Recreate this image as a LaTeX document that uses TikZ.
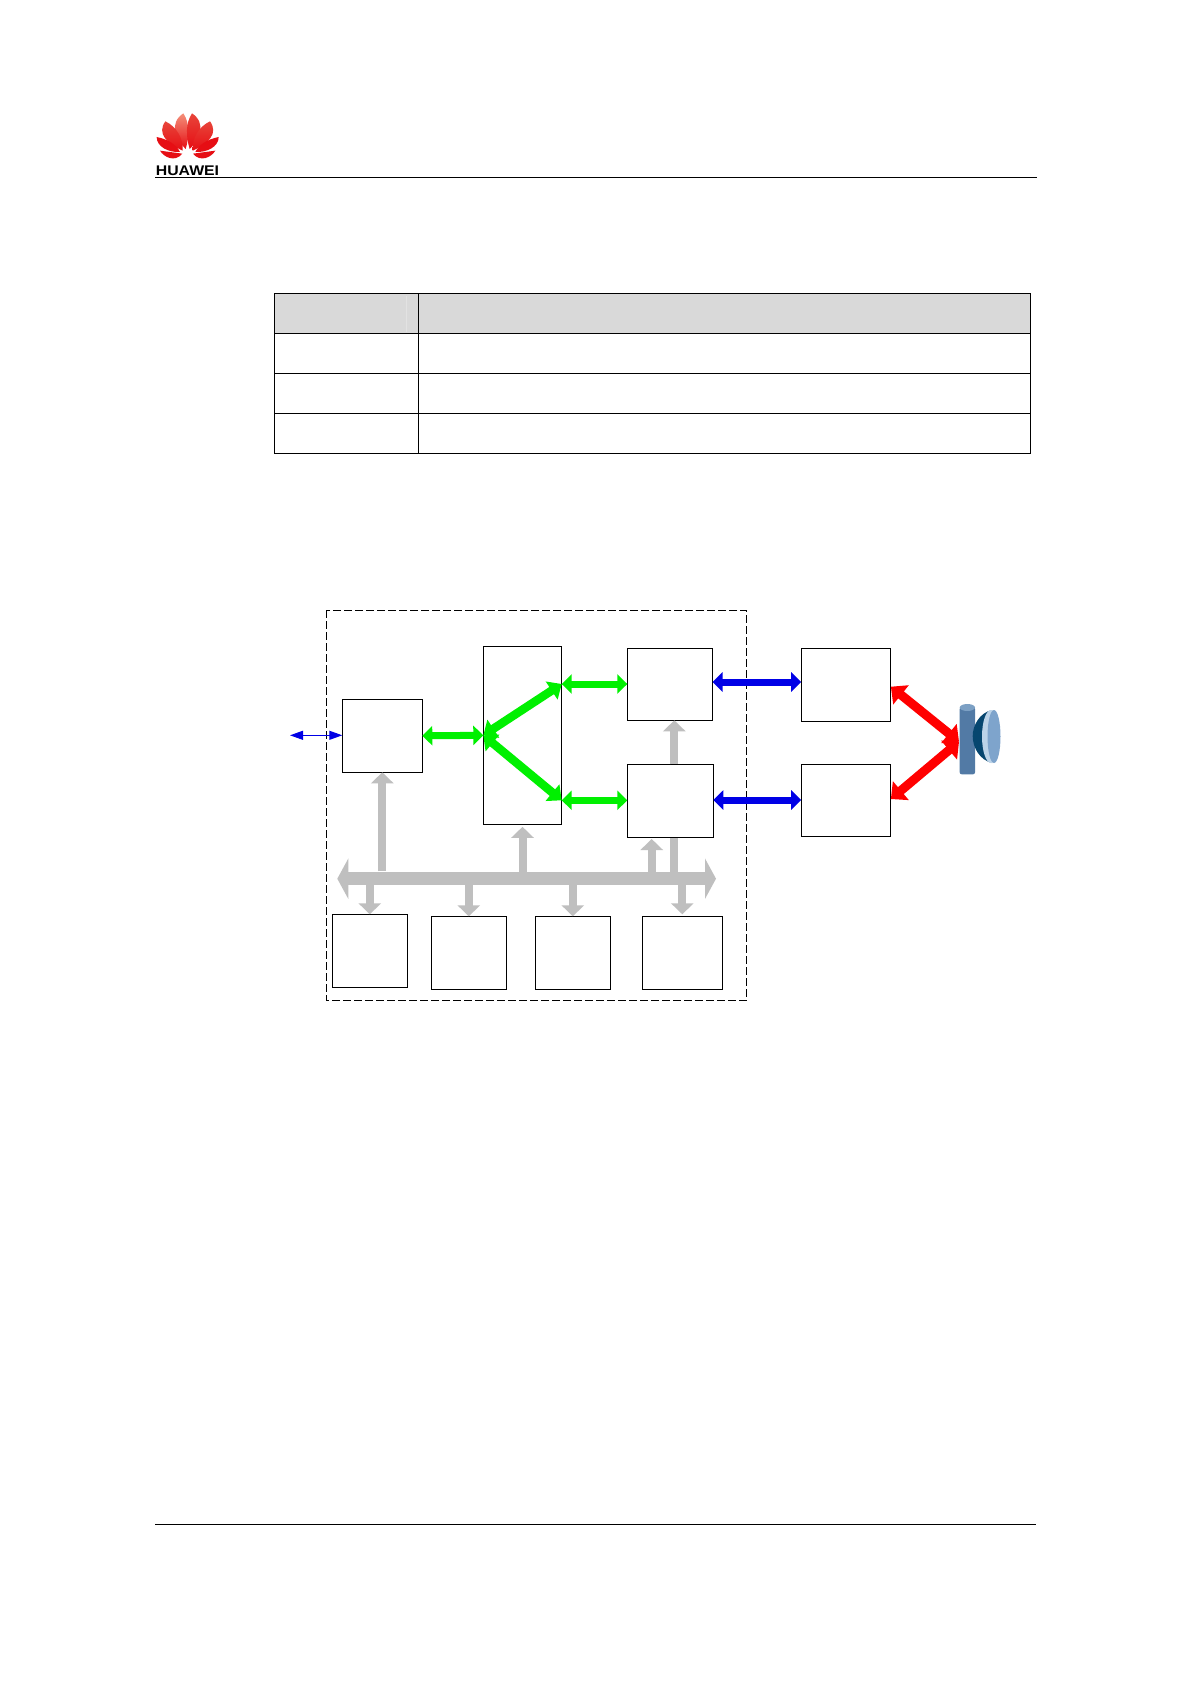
\documentclass[tikz,border=0pt]{standalone}
\usepackage{fontspec}
\setmainfont{Liberation Sans}
\usetikzlibrary{arrows.meta,calc}
\definecolor{busgray}{HTML}{BFBFBF}
\definecolor{hdrgray}{HTML}{D9D9D9}
\definecolor{grn}{HTML}{00F000}
\definecolor{blu}{HTML}{0000E6}
\definecolor{hwred}{HTML}{E60E14}
\definecolor{hwlight}{HTML}{F4907A}
\definecolor{hwmid}{HTML}{E8453A}
\tikzset{
  blockbox/.style={draw=black,line width=0.9pt,fill=white,inner sep=0pt,outer sep=0pt},
  rulebar/.style={draw=black,line width=0.9pt},
  busarrow/.style={draw=busgray,line width=8pt,-{Triangle[length=11pt,width=22pt]}},
  mainbus/.style={draw=busgray,line width=13pt,{Triangle[length=11pt,width=40pt]}-{Triangle[length=11pt,width=40pt]}},
  greenarrow/.style={draw=grn,line width=7pt,{Triangle[length=10pt,width=19pt]}-{Triangle[length=10pt,width=19pt]}},
  greendiag/.style={draw=grn,line width=8.5pt,{Triangle[length=12pt,width=21pt]}-{Triangle[length=12pt,width=21pt]}},
  bluearrow/.style={draw=blu,line width=7pt,{Triangle[length=10pt,width=19pt]}-{Triangle[length=10pt,width=19pt]}},
  redarrow/.style={draw=red,line width=9pt,{Triangle[length=13pt,width=24pt]}-{Triangle[length=13pt,width=24pt]}},
  thinblue/.style={draw=blu,line width=1pt,{Triangle[length=13pt,width=9pt]}-{Triangle[length=13pt,width=9pt]}},
  petal/.style={fill=hwred,draw=none},
  upperpetal/.style={top color=#1,bottom color=hwred,draw=none},
}
\begin{document}
\begin{tikzpicture}[x=1pt,y=-1pt]
\useasboundingbox (0,0) rectangle (1190,1684);
\fill[white] (0,0) rectangle (1190,1684);

% logo
\begin{scope}[x=0.3333pt,y=-0.3333pt,shift={(140pt,-100pt)}]
\foreach \s/\c in {1/hwlight,-1/hwmid}{
\begin{scope}[xshift=47.67pt,xscale=\s,xshift=-47.67pt]
  \path[upperpetal=\c] (137,147) .. controls (108,120) and (85,70) .. (130,40) .. controls (150,70) and (148,110) .. (137,147) -- cycle;
  \path[upperpetal=hwmid] (128,152) .. controls (80,130) and (50,100) .. (76,64) .. controls (110,80) and (130,115) .. (128,152) -- cycle;
  \path[petal] (120,156) .. controls (85,158) and (50,140) .. (50,111) .. controls (85,118) and (110,135) .. (120,156) -- cycle;
  \path[petal] (127,161) -- (60,152) .. controls (72,172) and (105,188) .. (127,161) -- cycle;
\end{scope}}
\end{scope}
\node[inner sep=0pt,anchor=base,font=\bfseries,text=black,xscale=1.13] (brand) at (187.5,175) {\fontsize{14}{14}\selectfont HUAWEI};
\draw[rulebar] (155,177.5) coordinate (ruleA) -- (1037,177.5) coordinate (ruleB);
\draw[rulebar] (155,1524) coordinate (ruleC) -- (1036,1524) coordinate (ruleD);

% table
\fill[hdrgray] (274.5,293.5) rectangle (1030,333.5);
\draw[color=white!25!hdrgray,line width=1pt] (406,296) -- (406,332);
\draw[rulebar] (274.5,293.5) rectangle (1030,453.5);
\draw[rulebar] (418,293.5) -- (418,453.5);
\draw[rulebar] (274.5,333.5) -- (1030,333.5);
\draw[rulebar] (274.5,373.5) -- (1030,373.5);
\draw[rulebar] (274.5,413.5) -- (1030,413.5);

% dashed frame
\draw[line width=0.9pt,dash pattern=on 8pt off 3pt] (326.7,610.3) rectangle (746.5,1000.7);

% blocks
\node[blockbox,minimum width=80pt,minimum height=73pt] (A) at (382.3,735.8) {};
\node[blockbox,minimum width=78.4pt,minimum height=178pt] (B) at (522.5,735.3) {};
\node[blockbox,minimum width=85.2pt,minimum height=72pt] (C) at (669.9,684.3) {};
\node[blockbox,minimum width=86pt,minimum height=73pt] (D) at (670.3,800.8) {};
\node[blockbox,minimum width=89pt,minimum height=72.5pt] (E) at (845.7,684.7) {};
\node[blockbox,minimum width=89pt,minimum height=72pt] (F) at (845.7,800.7) {};
\node[blockbox,minimum width=75pt,minimum height=73pt] (G) at (369.8,950.8) {};
\node[blockbox,minimum width=75pt,minimum height=73pt] (H) at (468.8,952.8) {};
\node[blockbox,minimum width=75pt,minimum height=73pt] (I) at (572.8,952.8) {};
\node[blockbox,minimum width=80pt,minimum height=73pt] (J) at (682.3,952.8) {};

% bus
\coordinate (busL) at (337.3,878.7);
\coordinate (busR) at (716,878.7);
\draw[busarrow] (A.south |- 0,871) coordinate (a0) -- (A.south);
\draw[busarrow] (B.south |- busL) -- ($(B.south)+(0,2.5)$);
\draw[busarrow] (651.7,878.7) coordinate (d0) -- (d0 |- 0,839) coordinate (d1);
\draw[draw=busgray,line width=8pt] (674.3,878.7) coordinate (c0) -- ($(c0 |- D.south)+(0,1)$);
\draw[busarrow] (c0 |- D.north) -- (c0 |- C.south);
\draw[mainbus] (busL) -- (busR);
\draw[busarrow] (G.north |- busL) -- (G.north);
\draw[busarrow] (H.north |- busL) -- (H.north);
\draw[busarrow] (I.north |- busL) -- (I.north);
\draw[busarrow] (J.north |- busL) -- ($(J.north)+(0,-2)$);

% green
\coordinate (hub) at (B.west);
\draw[greenarrow] (A.east) -- (hub);
\coordinate (bc) at (B.east |- 0,684);
\coordinate (bd) at (B.east |- 0,800.3);
\draw[greendiag] (hub) -- (bc);
\draw[greendiag] (hub) -- (bd);
\draw[greenarrow] (bc) -- (C.west |- bc);
\draw[greenarrow] (bd) -- (D.west |- bd);

% blue
\coordinate (ec) at (C.east |- 0,682);
\coordinate (fd) at (D.east |- 0,800);
\draw[bluearrow] (ec) -- (E.west |- ec);
\draw[bluearrow] (fd) -- (F.west |- fd);
\coordinate (ext) at (290,735.3);
\draw[thinblue] (ext) -- (A.west |- ext);

% antenna
\coordinate (ant) at (959,741.7);
\coordinate (et) at (890.9,686.7);
\coordinate (ft) at (890.9,799);
\draw[redarrow] (et) -- (ant);
\draw[redarrow] (ft) -- (ant);
\fill[color={rgb,255:red,82;green,122;blue,165},rounded corners=2pt] (959.7,707) rectangle (975,774.3);
\fill[color={rgb,255:red,124;green,160;blue,196}] (967.35,707.5) ellipse (7.65 and 3.5);
\fill[color={rgb,255:red,6;green,70;blue,111}] (992,710) .. controls (979,713) and (972.7,726) .. (972.7,736) .. controls (972.7,748) and (980,760) .. (992,763) -- cycle;
\fill[color={rgb,255:red,188;green,211;blue,232}] (991,736.5) ellipse (9 and 26.5);
\fill[color={rgb,255:red,126;green,164;blue,204}] (994,736.5) ellipse (6.5 and 26.5);
\end{tikzpicture}
\end{document}
